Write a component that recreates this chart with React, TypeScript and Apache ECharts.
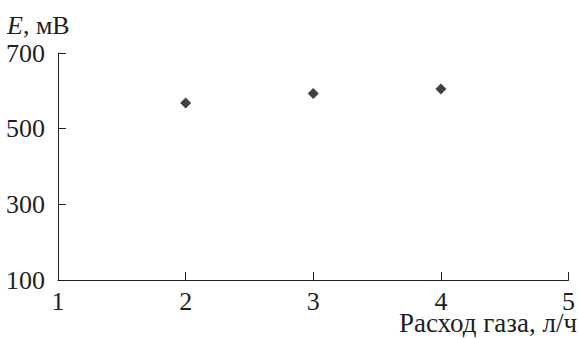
import React, { useEffect, useRef } from "react";
import * as echarts from "echarts";

const flowRates = [2, 3, 4];
const potentials = [568, 593, 605];
const xTicks = [1, 2, 3, 4, 5];
const yTicks = [100, 300, 500, 700];

const INK = "#231f20";
const FONT = "Liberation Serif";

export default function App() {
  const ref = useRef<HTMLDivElement>(null);
  useEffect(() => {
    if (!ref.current) return;
    const chart = echarts.init(ref.current, null, { renderer: "svg" });
    chart.setOption({
      animation: false,
      backgroundColor: "#ffffff",
      textStyle: { fontFamily: FONT },
      grid: { left: 58, right: 8, top: 53, bottom: 59, containLabel: false },
      xAxis: {
        type: "value",
        min: xTicks[0],
        max: xTicks[xTicks.length - 1],
        interval: 1,
        axisLine: { show: true, lineStyle: { color: INK, width: 1 } },
        axisTick: { show: true, inside: true, length: 8, lineStyle: { color: INK, width: 1 } },
        axisLabel: { color: INK, fontFamily: FONT, fontSize: 26, lineHeight: 18, margin: 12 },
        splitLine: { show: false },
      },
      yAxis: {
        type: "value",
        min: yTicks[0],
        max: yTicks[yTicks.length - 1],
        interval: 200,
        axisLine: { show: true, lineStyle: { color: INK, width: 1 } },
        axisTick: { show: true, inside: true, length: 8, lineStyle: { color: INK, width: 1 } },
        axisLabel: { color: INK, fontFamily: FONT, fontSize: 26, margin: 13 },
        splitLine: { show: false },
      },
      graphic: [
        {
          type: "text",
          x: 7,
          y: 25,
          style: {
            text: "{i|E}, мВ",
            fill: INK,
            fontFamily: FONT,
            fontSize: 26,
            verticalAlign: "middle",
            rich: { i: { fontStyle: "italic", fontFamily: FONT, fontSize: 26, fill: INK } },
          },
        },
        {
          type: "text",
          x: 577,
          y: 323,
          style: {
            text: "Расход газа, л/ч",
            fill: INK,
            fontFamily: FONT,
            fontSize: 27,
            lineHeight: 20,
            align: "right",
            verticalAlign: "middle",
          },
        },
      ],
      series: [
        {
          type: "scatter",
          symbol: "diamond",
          symbolSize: 11,
          itemStyle: { color: "#111111" },
          data: flowRates.map((x, i) => [x, potentials[i]]),
        },
      ],
    });
    return () => chart.dispose();
  }, []);
  return (
    <div
      ref={ref}
      style={{ position: "fixed", left: 0, top: 0, width: 578, height: 339 }}
    />
  );
}
